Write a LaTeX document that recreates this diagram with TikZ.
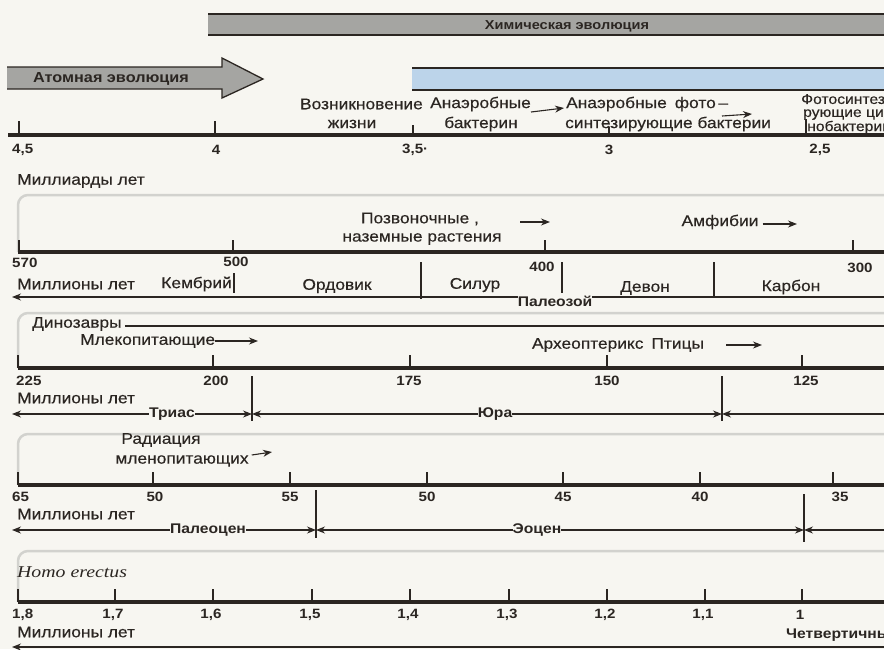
\documentclass[tikz,border=0pt]{standalone}
\usepackage{fontspec}
\setmainfont{Liberation Sans}[FakeStretch=1.12]
\newfontfamily\medf{Liberation Sans}[FakeStretch=1.12, FakeBold=0.35]
\newfontfamily\serifit{Liberation Serif}[FakeStretch=1.2]
\usetikzlibrary{arrows.meta}
\definecolor{ink}{HTML}{2B2622}
\definecolor{paper}{HTML}{F7F6F1}
\definecolor{barg}{HTML}{A5A5A2}
\definecolor{bluebar}{HTML}{BCD4EA}
\definecolor{boxline}{HTML}{D2D2CE}
\begin{document}
\begin{tikzpicture}[x=1pt,y=-1pt,
 txt/.style={inner sep=0pt, text=ink, font=\medf\fontsize{15.5}{16}\selectfont, align=center},
 btxt/.style={inner sep=0pt, text=ink, font=\fontsize{14}{15}\selectfont\bfseries},
 num/.style={inner sep=0pt, text=ink, font=\fontsize{13.5}{14}\selectfont\bfseries},
 axisline/.style={line width=4.5pt, draw=ink},
 tickmark/.style={line width=1.1pt, draw=ink},
 frame/.style={draw=boxline, line width=2.5pt, rounded corners=10pt},
 conn/.style={line width=1.1pt, draw=ink},
 arr/.style={conn, -{Stealth[length=9pt,width=7pt]}},
 larr/.style={conn, {Stealth[length=9pt,width=7pt]}-},
 bnd/.style={line width=1.3pt, draw=ink}
]
\clip (0,0) rectangle (884,649);
\fill[paper] (0,0) rectangle (884,649);

% ---------- row 1 ----------
\fill[barg] (208,14) rectangle (890,35);
\draw[conn, line width=1.3pt] (208,14) -- (890,14) (208,35) -- (890,35);
\node[btxt, font=\fontsize{13}{14}\selectfont\bfseries] (chem) at (567,26) {Химическая эволюция};
\draw[fill=barg, draw=ink, line width=1.3pt] (7,67) -- (222,67) -- (222,58) -- (263,79) -- (222,98) -- (222,89) -- (7,89);
\node[btxt, anchor=west, font=\fontsize{14.5}{15}\selectfont\bfseries] (atom) at (33,79) {Атомная эволюция};
\fill[bluebar] (412,68) rectangle (890,90);
\draw[conn, line width=1.3pt] (412,68) -- (890,68) (412,90) -- (890,90);

\node[txt, anchor=east] (voz1) at (423,104) {Возникновение};
\node[txt] (voz2) at (352,124) {жизни};
\node[txt, anchor=west] (an1) at (430,104) {Анаэробные};
\node[txt] (an2) at (481,124) {бактерин};
\coordinate (a1s) at (531,112); \coordinate (a1e) at (564,108);
\draw[arr] (a1s) -- (a1e);
\node[txt, anchor=west] (af1) at (566,104) {Анаэробные\hspace{8pt}фото\,–};
\node[txt, anchor=west] (af2) at (565,124) {синтезирующие бактерии};
\coordinate (a2s) at (722,116); \coordinate (a2e) at (752,114);
\draw[arr] (a2s) -- (a2e);
\node[txt, anchor=north west, align=left, font=\medf\fontsize{14}{13}\selectfont] (fs) at (801,94) {Фотосинтези-\\\hspace{2pt}рующие циа-\\\hspace{6pt}нобактерии};

\draw[axisline] (8,135) -- (890,135);
\foreach \x/\t in {19/121,215/121,413/125,609/127,806/119} \draw[tickmark] (\x,\t) -- (\x,135);
\node[num, anchor=west] (l45) at (12,150) {4,5};
\node[num] (l4) at (216,150) {4};
\node[num, anchor=west] (l35) at (402,150) {3,5·};
\node[num] (l3) at (609,150) {3};
\node[num] (l25) at (820,150) {2,5};
\node[txt, anchor=west] (mlrd) at (17,181) {Миллиарды лет};

% ---------- row 2 ----------
\draw[frame] (890,195) -- (18,195) -- (18,252);
\draw[axisline] (18,252) -- (890,252);
\foreach \x in {19,233,545,853} \draw[tickmark] (\x,240) -- (\x,252);
\node[num, anchor=west] (l570) at (12,263) {570};
\node[num] (l500) at (236,262) {500};
\node[num] (l400) at (542,267) {400};
\node[num] (l300) at (860,268) {300};
\node[txt] (pozv1) at (420,219) {Позвоночные ,};
\node[txt] (pozv2) at (422,239) {наземные растения};
\coordinate (a3s) at (520,222); \coordinate (a3e) at (550,222);
\draw[arr] (a3s) -- (a3e);
\node[txt] (amf) at (720,222) {Амфибии};
\coordinate (a4e) at (797,224);
\draw[arr] ([xshift=4pt]amf.east |- 0,224) -- (a4e);
\node[txt, anchor=west] (mln2) at (17,284) {Миллионы лет};
\node[txt, anchor=east] (kem) at (232,284) {Кембрий};
\draw[bnd] (234,273) -- (234,293);
\node[txt] (ord) at (337,286) {Ордовик};
\draw[bnd] (421,262) -- (421,299);
\node[txt] (sil) at (475,285) {Силур};
\draw[bnd] (562,262) -- (562,293);
\node[txt] (dev) at (645,288) {Девон};
\draw[bnd] (714,262) -- (714,297);
\node[txt] (karb) at (791,287) {Карбон};
\node[btxt] (pal) at (555,301) {Палеозой};
\coordinate (p0) at (12,297); \coordinate (p1) at (890,297);
\draw[larr] (p0) -- (pal.west |- p0);
\draw[conn] (pal.east |- p1) -- (p1);

% ---------- row 3 ----------
\draw[frame] (890,313) -- (18,313) -- (18,368);
\node[txt, anchor=west] (din) at (32,324) {Динозавры};
\coordinate (dinE) at (890,326);
\draw[conn] ([xshift=3pt]din.east |- dinE) -- (dinE);
\node[txt, anchor=west] (mlek) at (80,341) {Млекопитающие};
\coordinate (a5e) at (258,341);
\draw[arr] (mlek.east |- a5e) -- (a5e);
\node[txt] (arch) at (618,345) {Археоптерикс\hspace{8pt}Птицы};
\coordinate (a6s) at (726,345); \coordinate (a6e) at (762,345);
\draw[arr] (a6s) -- (a6e);
\draw[axisline] (18,368) -- (890,368);
\foreach \x in {18,213,410,607,802} \draw[tickmark] (\x,355) -- (\x,368);
\node[num, anchor=west] (l225) at (16,381) {225};
\node[num] (l200) at (216,381) {200};
\node[num] (l175) at (409,381) {175};
\node[num] (l150) at (607,381) {150};
\node[num] (l125) at (806,381) {125};
\node[txt, anchor=west] (mln3) at (17,398) {Миллионы лет};
\node[btxt] (trias) at (172,414) {Триас};
\node[btxt] (jura) at (495,414) {Юра};
\coordinate (t0) at (12,414); \coordinate (tb1) at (252,414); \coordinate (tb2) at (722,414); \coordinate (t9) at (890,414);
\draw[bnd] (252,376) -- (252,421);
\draw[bnd] (722,376) -- (722,421);
\draw[larr] (t0) -- (trias.west |- t0);
\draw[arr] (trias.east |- t0) -- (tb1);
\draw[larr] (tb1) -- (jura.west |- t0);
\draw[arr] (jura.east |- t0) -- (tb2);
\draw[larr] (tb2) -- (t9);

% ---------- row 4 ----------
\draw[frame] (890,434) -- (18,434) -- (18,485);
\node[txt] (rad1) at (161,440) {Радиация};
\node[txt] (rad2) at (182,461) {мленопитающих};
\coordinate (a7e) at (272,452);
\draw[arr] ([xshift=3pt]rad2.east |- 0,455) -- (a7e);
\draw[axisline] (18,485) -- (890,485);
\foreach \x in {18,153,290,427,563,700,833} \draw[tickmark] (\x,472) -- (\x,485);
\node[num, anchor=west] (l65) at (12,497) {65};
\node[num] (l50a) at (155,497) {50};
\node[num] (l55) at (290,497) {55};
\node[num] (l50b) at (427,497) {50};
\node[num] (l45b) at (563,497) {45};
\node[num] (l40) at (700,497) {40};
\node[num] (l35b) at (840,497) {35};
\node[txt, anchor=west] (mln4) at (17,514) {Миллионы лет};
\node[btxt] (paleoc) at (208,530) {Палеоцен};
\node[btxt] (eoc) at (537,530) {Эоцен};
\coordinate (e0) at (12,530); \coordinate (eb1) at (316,530); \coordinate (eb2) at (804,530); \coordinate (e9) at (890,530);
\draw[bnd] (316,490) -- (316,538);
\draw[bnd] (804,494) -- (804,542);
\draw[larr] (e0) -- (paleoc.west |- e0);
\draw[arr] (paleoc.east |- e0) -- (eb1);
\draw[larr] (eb1) -- (eoc.west |- e0);
\draw[arr] (eoc.east |- e0) -- (eb2);
\draw[larr] (eb2) -- (e9);

% ---------- row 5 ----------
\draw[frame] (890,551) -- (18,551) -- (18,602);
\node[inner sep=0pt, text=ink, anchor=west, font=\serifit\itshape\fontsize{16.5}{17}\selectfont] (homo) at (17,572) {Homo erectus};
\draw[axisline] (18,602) -- (890,602);
\foreach \x in {18,115,213,312,410,509,607,705,802} \draw[tickmark] (\x,589) -- (\x,602);
\node[num, anchor=west] (l18) at (12,615) {1,8};
\foreach \x/\t in {113/{1,7},211/{1,6},310/{1,5},408/{1,4},507/{1,3},605/{1,2},703/{1,1},800/{1}}
  \node[num] at (\x,615) {\t};
\node[txt, anchor=west] (mln5) at (17,632) {Миллионы лет};
\node[btxt, anchor=west] (chet) at (786,635) {Четвертичный};
\coordinate (q0) at (12,647); \coordinate (q9) at (890,647);
\draw[larr] (q0) -- (q9);
\end{tikzpicture}
\end{document}
